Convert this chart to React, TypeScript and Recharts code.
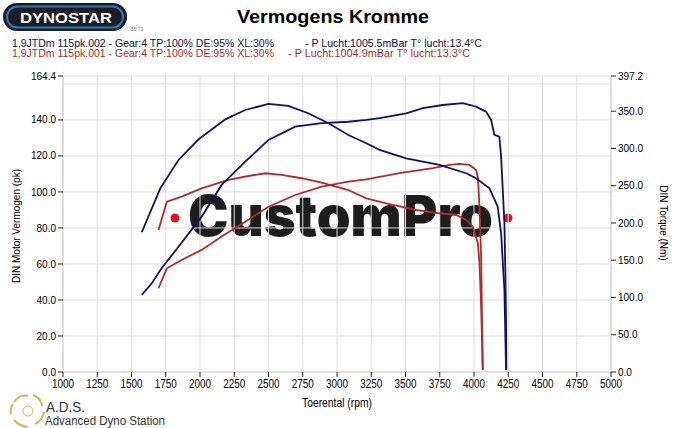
import { LineChart, Line, XAxis, YAxis, CartesianGrid, ReferenceLine } from 'recharts';

// rpm axis and tick values
const rpmTicks = [1000, 1250, 1500, 1750, 2000, 2250, 2500, 2750, 3000, 3250, 3500, 3750, 4000, 4250, 4500, 4750, 5000];
const pkTicks = [0, 20, 40, 60, 80, 100, 120, 140, 164.4];
const nmTicks = [0, 50, 100, 150, 200, 250, 300, 350, 397.2];

// run .002 (blue) torque, Nm
const blueTqRpm = [1575, 1710, 1843, 1990, 2185, 2330, 2500, 2645, 2790, 2938, 3083, 3214, 3311, 3505, 3748, 3943, 4015, 4113, 4173, 4198, 4222, 4234];
const blueTq = [187.5, 246.5, 284.5, 312.3, 339, 351.6, 359.7, 357, 347.2, 333.8, 318, 307, 298, 286.8, 277.8, 266.7, 260, 246.5, 221.8, 186, 110, 3];

// run .002 (blue) power, pk
const bluePkRpm = [1575, 1648, 1720, 1843, 2012, 2158, 2330, 2500, 2695, 2888, 3083, 3214, 3311, 3505, 3627, 3772, 3918, 4015, 4088, 4125, 4149, 4185, 4198, 4210, 4222, 4229, 4234, 4236];
const bluePk = [42.8, 49.3, 57.6, 69.6, 86.3, 103.9, 116.8, 128.9, 136.3, 138.2, 139, 140, 141, 143.7, 146.5, 148.3, 149.3, 147.4, 144.6, 140, 131.7, 130.7, 119.6, 101.1, 82.6, 55, 27.2, 1];

// run .001 (red) torque, Nm
const redTqRpm = [1697, 1758, 1866, 2012, 2207, 2353, 2475, 2596, 2742, 2888, 3083, 3214, 3359, 3578, 3748, 3870, 3943, 3991, 4028, 4040, 4052, 4064];
const redTq = [190.6, 228.5, 235.3, 246.5, 257.7, 263, 266.7, 264.4, 260, 254, 244.2, 233, 226.4, 217.4, 213, 210.7, 204, 195, 173, 146.3, 87.6, 2.7];

// run .001 (red) power, pk
const redPkRpm = [1697, 1758, 1866, 2012, 2158, 2330, 2500, 2695, 2888, 3083, 3214, 3456, 3700, 3821, 3894, 3967, 4015, 4028, 4040, 4052, 4064];
const redPk = [46.5, 57.6, 62.2, 67.8, 75.2, 83.5, 91.8, 98.3, 103, 105.7, 107, 110.4, 113.2, 115, 115.6, 115, 112.2, 108.5, 91.8, 64, 1.1];

const BLUE = '#10106a';
const RED = '#b8282a';
const FONT = '"Liberation Sans", Arial, sans-serif';

const pair = (rpm: number[], val: number[]) => rpm.map((r, i) => ({ rpm: r, v: val[i] }));

// narrow rpm labels like the dyno software prints them
function RpmTick(props: any) {
  const { x, y, payload } = props;
  return (
    <text x={x} y={y + 9} textAnchor="middle" fontSize={12} fontFamily={FONT} fill="#000" textLength={22} lengthAdjust="spacingAndGlyphs">
      {payload.value}
    </text>
  );
}

function Decorations() {
  return (
    <svg width={685} height={428} style={{ position: 'absolute', left: 0, top: 0 }}>
      {/* dynostar logo */}
      <rect x={3} y={3} width={124} height={28} rx={14} fill="#1b1c24" />
      <rect x={7} y={6.5} width={116} height={21} rx={10.5} fill="none" stroke="#2b7bc0" strokeWidth={2} />
      <text x={20} y={22.5} fill="#fff" fontSize={15} fontWeight={700} fontFamily={FONT} textLength={92} lengthAdjust="spacingAndGlyphs">DYNOSTAR</text>
      <text x={128} y={31} fill="#777" fontSize={5} fontFamily={FONT}>..36.73</text>

      <text x={237} y={23} fontSize={19} fontWeight={700} fontFamily={FONT} textLength={192} lengthAdjust="spacingAndGlyphs">Vermogens Kromme</text>

      <text x={12} y={47} fontSize={10} fill="#10103a" fontFamily={FONT} textLength={262} lengthAdjust="spacingAndGlyphs">1,9JTDm 115pk.002 - Gear:4 TP:100% DE:95% XL:30%</text>
      <text x={305} y={47} fontSize={10} fill="#10103a" fontFamily={FONT} textLength={177} lengthAdjust="spacingAndGlyphs">- P Lucht:1005.5mBar T° lucht:13.4°C</text>
      <text x={12} y={57} fontSize={10} fill={RED} fontFamily={FONT} textLength={262} lengthAdjust="spacingAndGlyphs">1,9JTDm 115pk.001 - Gear:4 TP:100% DE:95% XL:30%</text>
      <text x={288} y={57} fontSize={10} fill={RED} fontFamily={FONT} textLength={182} lengthAdjust="spacingAndGlyphs">- P Lucht:1004.9mBar T° lucht:13.3°C</text>

      {/* watermark */}
      <circle cx={175} cy={218} r={4.5} fill="#e3141c" />
      <circle cx={508} cy={218} r={4.5} fill="#e3141c" />
      <text x={188} y={236} fontSize={56} fontWeight={900} fill="#1d1d1d" fontFamily="Inter, Roboto, sans-serif" textLength={305} lengthAdjust="spacingAndGlyphs">CustomPro</text>

      {/* axis titles */}
      <text transform="translate(20,226) rotate(-90)" textAnchor="middle" fontSize={10} fontFamily={FONT}>DIN Motor Vermogen (pk)</text>
      <text transform="translate(660,223) rotate(90)" textAnchor="middle" fontSize={10} fontFamily={FONT}>DIN Torque (Nm)</text>
      <text x={302} y={407} fontSize={12} fontFamily={FONT} textLength={70} lengthAdjust="spacingAndGlyphs">Toerental (rpm)</text>

      {/* A.D.S. logo */}
      <g stroke="#d8b452" strokeWidth={2} fill="none">
        <path d="M 14 402 Q 20 394 28 396" />
        <path d="M 33 395 Q 41 398 42 406" />
        <path d="M 44 412 Q 42 421 35 424" />
        <path d="M 28 427 Q 19 426 14 420" />
        <path d="M 11 414 Q 10 408 13 404" />
        <circle cx={28} cy={411} r={5} strokeWidth={1} />
      </g>
      <text x={46} y={412} fontSize={14} fill="#333" fontFamily={FONT} textLength={39} lengthAdjust="spacingAndGlyphs">A.D.S.</text>
      <text x={45} y={425} fontSize={12} fill="#333" fontFamily={FONT} textLength={120} lengthAdjust="spacingAndGlyphs">Advanced Dyno Station</text>
    </svg>
  );
}

export default function App() {
  const tick = { fontSize: 10, fill: '#000', fontFamily: FONT };
  return (
    <div style={{ position: 'absolute', left: 0, top: 0, width: 685, height: 428, background: '#fff', overflow: 'hidden' }}>
      <Decorations />
      <div style={{ position: 'absolute', left: 0, top: 0 }}>
        <LineChart width={685} height={428} margin={{ top: 76, right: 24, bottom: 31, left: 13 }}>
          <CartesianGrid yAxisId="left" stroke="#dcdcdc" strokeWidth={1} />
          <XAxis
            type="number"
            dataKey="rpm"
            domain={[1000, 5000]}
            ticks={rpmTicks}
            interval={0}
            height={25}
            tickSize={5}
            axisLine={{ stroke: '#d0d0d0' }}
            tickLine={{ stroke: '#222' }}
            tick={<RpmTick />}
            allowDataOverflow
          />
          <YAxis
            yAxisId="left"
            domain={[0, 164.4]}
            ticks={pkTicks}
            interval={0}
            width={50}
            tickSize={5}
            axisLine={{ stroke: '#d0d0d0' }}
            tickLine={{ stroke: '#222' }}
            tick={tick}
            tickFormatter={(v: number) => v.toFixed(1)}
            allowDataOverflow
          />
          <YAxis
            yAxisId="right"
            orientation="right"
            domain={[0, 397.2]}
            ticks={nmTicks}
            interval={0}
            width={50}
            tickSize={5}
            axisLine={{ stroke: '#d0d0d0' }}
            tickLine={{ stroke: '#222' }}
            tick={tick}
            tickFormatter={(v: number) => v.toFixed(1)}
            allowDataOverflow
          />
          <ReferenceLine yAxisId="left" y={160} stroke="#dcdcdc" />
          <Line yAxisId="right" data={pair(redTqRpm, redTq)} dataKey="v" stroke={RED} strokeWidth={1.8} dot={false} isAnimationActive={false} />
          <Line yAxisId="left" data={pair(redPkRpm, redPk)} dataKey="v" stroke={RED} strokeWidth={1.8} dot={false} isAnimationActive={false} />
          <Line yAxisId="right" data={pair(blueTqRpm, blueTq)} dataKey="v" stroke={BLUE} strokeWidth={1.8} dot={false} isAnimationActive={false} />
          <Line yAxisId="left" data={pair(bluePkRpm, bluePk)} dataKey="v" stroke={BLUE} strokeWidth={1.8} dot={false} isAnimationActive={false} />
        </LineChart>
      </div>
    </div>
  );
}
